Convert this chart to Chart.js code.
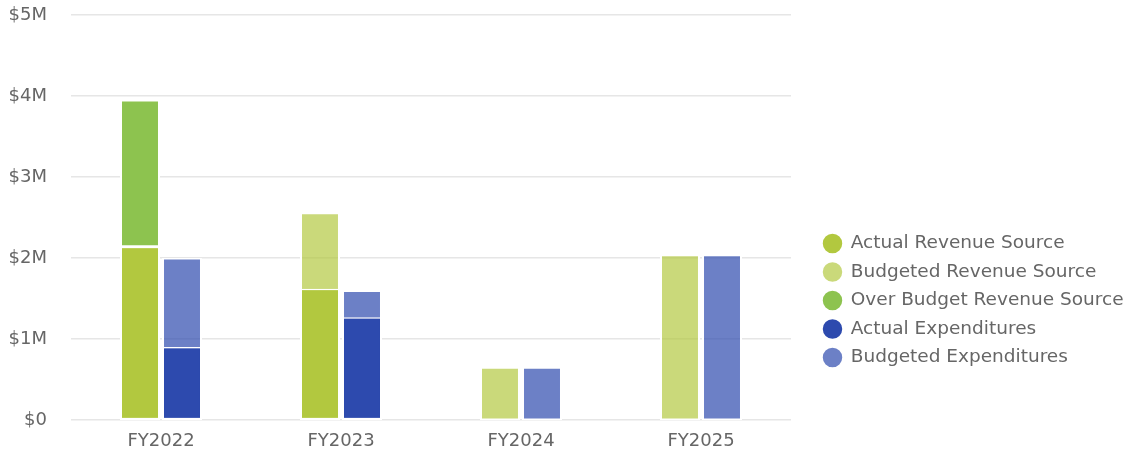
<!DOCTYPE html>
<html>
<head>
<meta charset="utf-8">
<script src="https://cdn.jsdelivr.net/npm/chart.js@4.4.1/dist/chart.umd.min.js"></script>
<style>
  html, body { margin: 0; padding: 0; background: #fff; }
  #wrap { width: 1130px; height: 456px; position: relative; }
</style>
</head>
<body>
<div id="wrap"><canvas id="c"></canvas></div>
<script>
const categories = ['FY2022', 'FY2023', 'FY2024', 'FY2025'];
const actualRevenue = [2140000, 1620000, null, null];
const budgetedRevenue = [2140000, 2560000, 650000, 2040000];
const overBudgetRevenue = [1810000, null, null, null];
const actualExpenditures = [900000, 1270000, null, null];
const budgetedExpenditures = [2000000, 1600000, 650000, 2040000];
const yTicks = [0, 1000000, 2000000, 3000000, 4000000, 5000000];

const FONT = 'DejaVu Sans';
const TEXT = '#666666';
const bw = {left: 2, right: 2, top: 1.5, bottom: 1.5};

const common = {
  borderColor: '#ffffff',
  borderWidth: bw,
  borderSkipped: false,
  categoryPercentage: 0.4667,
  barPercentage: 0.952
};

// Layout helper: give the right-hand legend its full width and place it like the reference.
const legendLayout = {
  id: 'legendLayout',
  beforeLayout(chart) {
    const lg = chart.legend;
    if (lg && !lg._patched) {
      const origFit = lg.fit;
      lg.fit = function () { origFit.call(this); this.width = 339; };
      lg._patched = true;
    }
  },
  afterLayout(chart) {
    const lg = chart.legend;
    const dx = chart.chartArea.right + 22.5 - lg.left;
    lg.left += dx; lg.right += dx;
    lg.top += 65; lg.bottom += 65;
  }
};

new Chart(document.getElementById('c'), {
  type: 'bar',
  data: {
    labels: categories,
    datasets: [
      Object.assign({label: 'Actual Revenue Source', data: actualRevenue, backgroundColor: '#b2c83f', stack: 'rev', yAxisID: 'y'}, common),
      Object.assign({label: 'Budgeted Revenue Source', data: budgetedRevenue, backgroundColor: 'rgba(178,200,63,0.69)', stack: 'rev', yAxisID: 'yb'}, common),
      Object.assign({label: 'Over Budget Revenue Source', data: overBudgetRevenue, backgroundColor: '#8dc34f', stack: 'rev', yAxisID: 'y'}, common),
      Object.assign({label: 'Actual Expenditures', data: actualExpenditures, backgroundColor: '#2d4aae', stack: 'exp', yAxisID: 'y'}, common),
      Object.assign({label: 'Budgeted Expenditures', data: budgetedExpenditures, backgroundColor: 'rgba(45,74,174,0.70)', stack: 'exp', yAxisID: 'yb'}, common)
    ]
  },
  plugins: [legendLayout],
  options: {
    responsive: true,
    maintainAspectRatio: false,
    animation: false,
    layout: { padding: { top: 15, right: 0, bottom: 0, left: 4 } },
    plugins: {
      tooltip: { enabled: false },
      legend: {
        position: 'right',
        align: 'center',
        labels: {
          usePointStyle: true,
          pointStyle: 'circle',
          boxWidth: 18,
          boxHeight: 15,
          padding: 10,
          color: TEXT,
          font: { family: FONT, size: 18.5 }
        }
      }
    },
    scales: {
      x: {
        stacked: true,
        grid: { display: false, drawTicks: false },
        border: { display: false },
        ticks: { color: TEXT, font: { family: FONT, size: 18 }, padding: 11 },
        afterFit: (axis) => { axis.height = 36; axis.paddingLeft = 0; axis.paddingRight = 0; }
      },
      y: {
        stacked: true,
        min: 0,
        max: 5000000,
        afterBuildTicks: (axis) => { axis.ticks = yTicks.map(v => ({value: v})); },
        afterFit: (axis) => { axis.width = 67; axis.paddingTop = 0; axis.paddingBottom = 0; },
        grid: { color: '#e6e6e6', lineWidth: 1.5, drawTicks: false },
        border: { display: false },
        ticks: {
          color: TEXT,
          font: { family: FONT, size: 18 },
          padding: 24,
          callback: (v) => v === 0 ? '$0' : '$' + (v / 1000000) + 'M'
        }
      },
      yb: {
        stacked: false,
        display: false,
        min: 0,
        max: 5000000
      }
    }
  }
});
</script>
</body>
</html>
